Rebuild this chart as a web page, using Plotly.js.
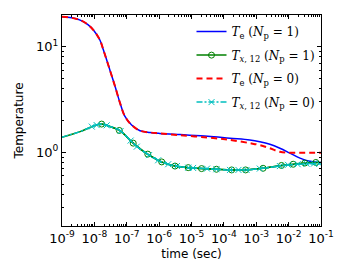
<!DOCTYPE html>
<html>
<head>
<meta charset="utf-8">
<script src="https://cdn.plot.ly/plotly-3.0.1.min.js"></script>
<style>html,body{margin:0;padding:0;background:#fff}#chart{width:350px;height:280px}</style>
</head>
<body>
<div id="chart"></div>
<script>
// Time is stored as log10(seconds) exponents
const teLogTime = [-9, -8.7, -8.44, -8.2, -8.03, -7.83, -7.72, -7.52, -7.36, -7.21, -7.06, -6.85, -6.59, -6.28, -5.98, -5.36, -4.5, -3.81, -3.2, -2.89, -2.58, -2.27, -1.96, -1.65, -1.35, -1];
const teNp1 = [19.2, 18.8, 17.9, 16.2, 14.4, 11.6, 9.3, 6.0, 4.2, 2.95, 2.2, 1.81, 1.6, 1.54, 1.51, 1.47, 1.42, 1.36, 1.31, 1.26, 1.19, 1.09, 0.98, 0.88, 0.82, 0.80];
const teNp0 = [19.2, 18.8, 17.9, 16.2, 14.4, 11.6, 9.3, 6.0, 4.2, 2.95, 2.2, 1.81, 1.6, 1.54, 1.51, 1.45, 1.38, 1.31, 1.22, 1.17, 1.09, 1.01, 0.99, 0.99, 0.99, 0.99];

const txLogTime = [-9, -8.44, -8.03, -7.78, -7.52, -7.21, -6.85, -6.6, -6.39, -6.28, -5.98, -5.51, -5.1, -4.23, -3.76, -3.2, -2.79, -2.27, -1.65, -1];
const txNp1 = [1.39, 1.57, 1.77, 1.85, 1.75, 1.60, 1.26, 1.08, 0.97, 0.93, 0.82, 0.74, 0.715, 0.69, 0.68, 0.685, 0.705, 0.745, 0.78, 0.80];
const txNp0 = [1.39, 1.57, 1.77, 1.85, 1.75, 1.60, 1.26, 1.08, 0.97, 0.93, 0.82, 0.74, 0.715, 0.69, 0.68, 0.685, 0.705, 0.74, 0.77, 0.78];

const txNp1MarkLogTime = [-7.775, -7.23, -6.80, -6.35, -5.92, -5.51, -5.10, -4.69, -4.23, -3.76, -3.33, -2.79, -2.22, -1.86, -1.5, -1.16];
const txNp1Mark = [1.85, 1.61, 1.22, 0.96, 0.81, 0.74, 0.715, 0.70, 0.69, 0.68, 0.68, 0.705, 0.75, 0.77, 0.79, 0.80];

const txNp0MarkLogTime = [-8.08, -7.93, -7.62, -7.19, -6.88, -6.69, -6.31, -6.03, -5.72, -5.45, -5.10, -4.95, -4.52, -4.23, -3.81, -3.55, -3.30, -2.89, -2.27, -2.02, -1.72, -1.45, -1.22, -1.05];
const txNp0Mark = [1.75, 1.81, 1.80, 1.59, 1.29, 1.13, 0.94, 0.84, 0.77, 0.74, 0.715, 0.71, 0.70, 0.69, 0.68, 0.68, 0.68, 0.70, 0.74, 0.76, 0.77, 0.78, 0.78, 0.78];

const xTickExp = [-9, -8, -7, -6, -5, -4, -3, -2, -1];
const yTickExp = [0, 1];

const names = [
  '<i>T</i><sub>e</sub> (<i>N</i><sub>p</sub> = 1)',
  '<i>T</i><sub><i>x</i>, 12</sub> (<i>N</i><sub>p</sub> = 1)',
  '<i>T</i><sub>e</sub> (<i>N</i><sub>p</sub> = 0)',
  '<i>T</i><sub><i>x</i>, 12</sub> (<i>N</i><sub>p</sub> = 0)'
];

const toT = a => a.map(e => Math.pow(10, e));
const powLabel = e => '10<sup>' + e + '</sup>';
const BLUE = '#0000ff', GREEN = '#008000', RED = '#ff0000', CYAN = '#00bfbf';
const DASHDOT = '6px,2px,2px,2px';

const traces = [
  {x: toT(teLogTime), y: teNp1, mode: 'lines', name: names[0], legendgroup: 'a', line: {color: BLUE, width: 1.5, shape: 'spline'}},
  {x: toT(txLogTime), y: txNp1, mode: 'lines', showlegend: false, legendgroup: 'b', line: {color: GREEN, width: 1.5, shape: 'spline'}},
  {x: toT(txNp1MarkLogTime), y: txNp1Mark, mode: 'lines+markers', name: names[1], legendgroup: 'b',
   line: {color: GREEN, width: 1.5, shape: 'spline'},
   marker: {symbol: 'circle-open', size: 6, color: GREEN, line: {width: 1, color: GREEN}}},
  {x: toT(teLogTime), y: teNp0, mode: 'lines', name: names[2], legendgroup: 'c', line: {color: RED, width: 2, dash: '6px,4px', shape: 'spline'}},
  {x: toT(txLogTime), y: txNp0, mode: 'lines', showlegend: false, legendgroup: 'd', line: {color: CYAN, width: 1.5, dash: DASHDOT, shape: 'spline'}},
  {x: toT(txNp0MarkLogTime), y: txNp0Mark, mode: 'lines+markers', name: names[3], legendgroup: 'd',
   line: {color: CYAN, width: 1.5, dash: DASHDOT, shape: 'spline'},
   marker: {symbol: 'x-thin', size: 6, color: CYAN, line: {width: 1, color: CYAN}}}
];

const axisCommon = {
  type: 'log', showgrid: false, zeroline: false, showline: true, linecolor: '#000', linewidth: 1,
  mirror: 'allticks', ticks: 'inside', ticklen: 4, tickcolor: '#000', tickwidth: 1,
  tickfont: {family: 'DejaVu Sans', size: 13, color: '#000'},
  tickmode: 'array',
  minor: {ticks: 'inside', ticklen: 2, tickcolor: '#000', dtick: 'D1', showgrid: false}
};

const layout = {
  width: 350, height: 280,
  margin: {l: 62, r: 29, t: 15, b: 54},
  paper_bgcolor: '#fff', plot_bgcolor: '#fff',
  showlegend: true,
  legend: {x: 0.5, y: 0.99, xanchor: 'left', yanchor: 'top', bgcolor: 'rgba(0,0,0,0)',
    traceorder: 'grouped', tracegroupgap: 4.5,
    font: {family: 'DejaVu Serif', size: 12, color: '#000'}},
  xaxis: Object.assign({}, axisCommon, {
    range: [-9, -1], tickvals: toT(xTickExp), ticktext: xTickExp.map(powLabel),
    title: {text: 'time (sec)', font: {family: 'DejaVu Sans', size: 12, color: '#000'}, standoff: 5}
  }),
  yaxis: Object.assign({}, axisCommon, {
    range: [Math.log10(0.2), Math.log10(20)], tickvals: toT(yTickExp), ticktext: yTickExp.map(powLabel),
    title: {text: 'Temperature', font: {family: 'DejaVu Sans', size: 12, color: '#000'}, standoff: 9}
  })
};

Plotly.newPlot('chart', traces, layout, {staticPlot: true, displayModeBar: false});
</script>
</body>
</html>
